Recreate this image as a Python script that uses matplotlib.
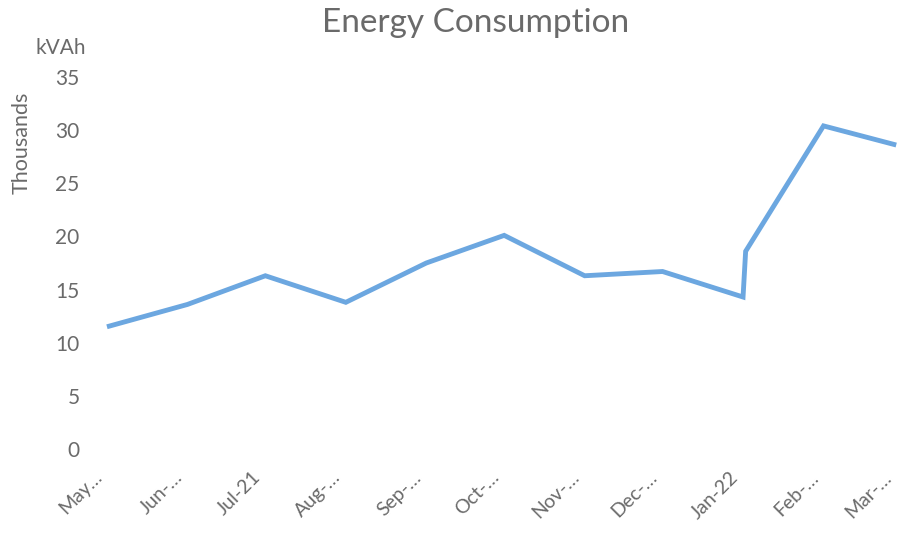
import matplotlib
matplotlib.use("Agg")
import matplotlib.pyplot as plt
import matplotlib.dates as mdates
import matplotlib.transforms as mtransforms

# readings (thousands of kVAh)
dates = ['2021-05-01', '2021-06-01', '2021-07-01', '2021-08-01', '2021-09-01',
         '2021-10-01', '2021-11-01', '2021-12-01', '2022-01-01', '2022-01-02',
         '2022-02-01', '2022-03-01']
values = [11.5, 13.6, 16.3, 13.8, 17.5, 20.1, 16.3, 16.7, 14.3, 18.6, 30.4, 28.6]

tick_dates = ['2021-05-01', '2021-06-01', '2021-07-01', '2021-08-01', '2021-09-01',
              '2021-10-01', '2021-11-01', '2021-12-01', '2022-01-01', '2022-02-01',
              '2022-03-01']
tick_labels = ['May…', 'Jun-…', 'Jul-21', 'Aug-…', 'Sep-…', 'Oct-…',
               'Nov-…', 'Dec-…', 'Jan-22', 'Feb-…', 'Mar-…']
y_ticks = [0, 5, 10, 15, 20, 25, 30, 35]

grey = '#6a6a6a'
plt.rcParams['font.family'] = ['Lato', 'DejaVu Sans']

W, H = 897, 538
fig = plt.figure(figsize=(W / 100, H / 100), dpi=100)
ax = fig.add_axes([88 / W, (H - 449) / H, (897 - 88) / W, (449 - 77) / H])

x = mdates.datestr2num(dates)
ax.plot(x, values, color='#6CA7E0', lw=3.5, solid_joinstyle='miter',
        solid_capstyle='butt')

x0 = mdates.datestr2num('2021-05-01')
x1 = mdates.datestr2num('2022-03-01')
ax.set_xlim(x0 - 7.3, x1 + 0.3)
ax.set_ylim(0, 35)

ax.set_yticks(y_ticks)
ax.set_yticklabels([str(v) for v in y_ticks])
ax.set_xticks(mdates.datestr2num(tick_dates))
ax.set_xticklabels(tick_labels, rotation=45, ha='right', rotation_mode='anchor')
ax.tick_params(axis='both', length=0, colors=grey, labelsize=15)
ax.tick_params(axis='x', labelsize=14, pad=14)
ax.tick_params(axis='y', pad=6)

# nudge the slanted month labels a little left, like the original
shift = mtransforms.ScaledTranslation(-14 / 100, 0, fig.dpi_scale_trans)
for lbl in ax.get_xticklabels():
    lbl.set_transform(lbl.get_transform() + shift)

for s in ax.spines.values():
    s.set_visible(False)

fig.text(476 / W, 1 - 23 / H, 'Energy Consumption', ha='center', va='center',
         fontsize=24, color=grey)
fig.text(61 / W, 1 - 48 / H, 'kVAh', ha='center', va='center', fontsize=15,
         color=grey)
fig.text(22 / W, 1 - 143 / H, 'Thousands', ha='center', va='center',
         rotation=90, fontsize=15.5, color=grey)

fig.savefig('out.png', dpi=100)
